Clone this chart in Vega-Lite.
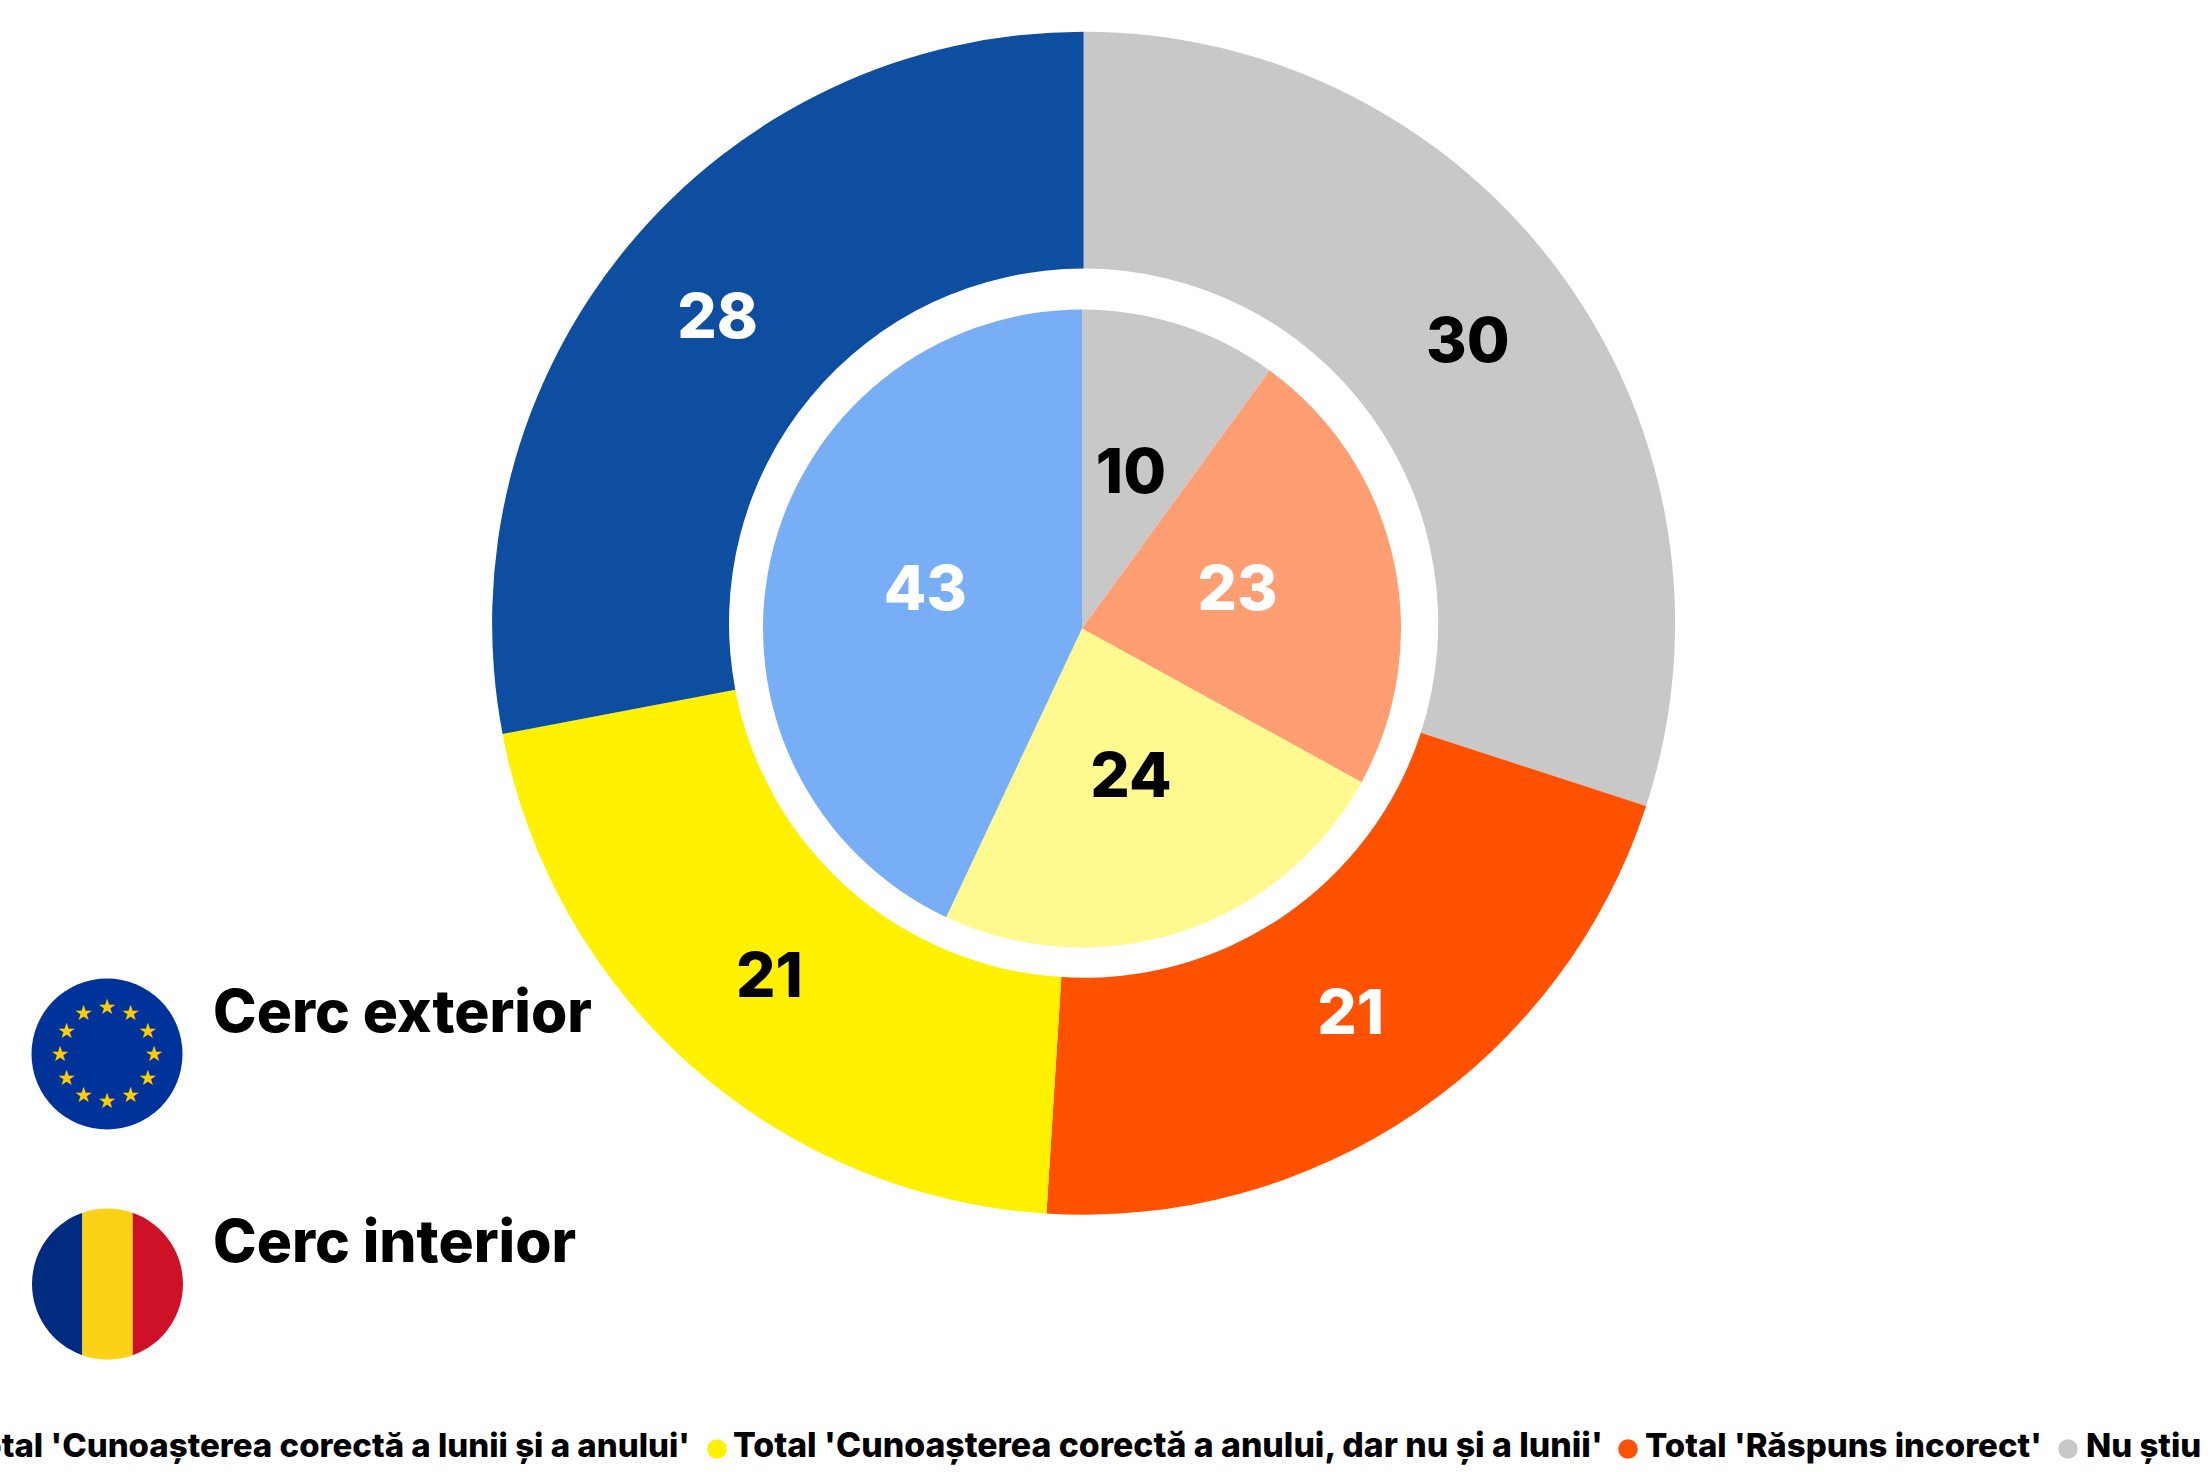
{
"$schema":"https://vega.github.io/schema/vega-lite/v6.json",
"width":2211,"height":1472,"padding":0,"autosize":"none","background":"#ffffff",
"config":{"view":{"stroke":null},"text":{"font":"Inter","fontWeight":800}},
"datasets":{
"rows":[
{"ring":"Cerc exterior","answer":"Nu știu","value":30,"order":1},
{"ring":"Cerc exterior","answer":"Total 'Răspuns incorect'","value":21,"order":2},
{"ring":"Cerc exterior","answer":"Total 'Cunoașterea corectă a anului, dar nu și a lunii'","value":21,"order":3},
{"ring":"Cerc exterior","answer":"Total 'Cunoașterea corectă a lunii și a anului'","value":28,"order":4},
{"ring":"Cerc interior","answer":"Nu știu","value":10,"order":1},
{"ring":"Cerc interior","answer":"Total 'Răspuns incorect'","value":23,"order":2},
{"ring":"Cerc interior","answer":"Total 'Cunoașterea corectă a anului, dar nu și a lunii'","value":24,"order":3},
{"ring":"Cerc interior","answer":"Total 'Cunoașterea corectă a lunii și a anului'","value":43,"order":4}
],
"stars":[{"angle":0},{"angle":30},{"angle":60},{"angle":90},{"angle":120},{"angle":150},{"angle":180},{"angle":210},{"angle":240},{"angle":270},{"angle":300},{"angle":330}],
"stripes":[{"stripe":"albastru"},{"stripe":"galben"},{"stripe":"roșu"}]
},
"resolve":{"scale":{"color":"independent","theta":"independent","shape":"independent"}},
"layer":[
{"data":{"name":"rows"},"transform":[{"filter":"datum.ring=='Cerc exterior'"}],
"mark":{"type":"arc","radius":591.5,"radius2":354.6},
"encoding":{
"x":{"datum":1083.6,"type":"quantitative","scale":{"domain":[0,2211],"range":[0,2211]},"axis":null},
"y":{"datum":623.2,"type":"quantitative","scale":{"domain":[0,1472],"range":[0,1472]},"axis":null},
"theta":{"field":"value","type":"quantitative","stack":true,"scale":{"domain":[0,100]}},
"order":{"field":"order"},
"color":{"field":"answer","legend":null,"scale":{"domain":["Nu știu","Total 'Răspuns incorect'","Total 'Cunoașterea corectă a anului, dar nu și a lunii'","Total 'Cunoașterea corectă a lunii și a anului'"],"range":["#C8C8C8","#FF5100","#FFF100","#0D4EA0"]}}
}},
{"data":{"name":"rows"},"transform":[{"filter":"datum.ring=='Cerc interior'"}],
"mark":{"type":"arc","radius":319,"radius2":0},
"encoding":{
"x":{"datum":1082,"type":"quantitative","scale":{"domain":[0,2211],"range":[0,2211]},"axis":null},
"y":{"datum":628.5,"type":"quantitative","scale":{"domain":[0,1472],"range":[0,1472]},"axis":null},
"theta":{"field":"value","type":"quantitative","stack":true,"scale":{"domain":[0,100]}},
"order":{"field":"order"},
"color":{"field":"answer","legend":null,"scale":{"domain":["Nu știu","Total 'Răspuns incorect'","Total 'Cunoașterea corectă a anului, dar nu și a lunii'","Total 'Cunoașterea corectă a lunii și a anului'"],"range":["#C8C8C8","#FF9E72","#FFF98F","#78AEF5"]}}
}},
{"data":{"name":"rows"},"transform":[{"filter":"datum.ring=='Cerc exterior'"}],
"mark":{"type":"text","radius":475,"fontSize":62,"baseline":"middle","align":"center"},
"encoding":{
"x":{"datum":1083.6,"type":"quantitative","scale":{"domain":[0,2211],"range":[0,2211]},"axis":null},
"y":{"datum":622,"type":"quantitative","scale":{"domain":[0,1472],"range":[0,1472]},"axis":null},
"theta":{"field":"value","type":"quantitative","stack":true,"scale":{"domain":[0,100]}},
"order":{"field":"order"},
"detail":{"field":"answer"},
"text":{"field":"value"},
"color":{"condition":{"test":"datum.answer=='Total \\'Răspuns incorect\\'' || datum.answer=='Total \\'Cunoașterea corectă a lunii și a anului\\''","value":"#ffffff"},"value":"#000000"}
}},
{"data":{"name":"rows"},"transform":[{"filter":"datum.ring=='Cerc interior'"}],
"mark":{"type":"text","radius":160,"fontSize":62,"baseline":"middle","align":"center"},
"encoding":{
"x":{"datum":1081.5,"type":"quantitative","scale":{"domain":[0,2211],"range":[0,2211]},"axis":null},
"y":{"datum":626,"type":"quantitative","scale":{"domain":[0,1472],"range":[0,1472]},"axis":null},
"theta":{"field":"value","type":"quantitative","stack":true,"scale":{"domain":[0,100]}},
"order":{"field":"order"},
"detail":{"field":"answer"},
"text":{"field":"value"},
"color":{"condition":{"test":"datum.answer=='Total \\'Răspuns incorect\\'' || datum.answer=='Total \\'Cunoașterea corectă a lunii și a anului\\''","value":"#ffffff"},"value":"#000000"}
}},
{"data":{"values":[{"flag":"UE"}]},
"mark":{"type":"point","shape":"circle","filled":true,"fill":"#003399","stroke":null,"opacity":1,"size":22801},
"encoding":{
"x":{"datum":107,"type":"quantitative","scale":{"domain":[0,2211],"range":[0,2211]},"axis":null},
"y":{"datum":1054,"type":"quantitative","scale":{"domain":[0,1472],"range":[0,1472]},"axis":null}
}},
{"data":{"name":"stars"},
"mark":{"type":"text","text":"★","font":"DejaVu Sans","fontWeight":"normal","fontSize":21,"radius":47,"baseline":"middle","align":"center","color":"#FFCC00"},
"encoding":{
"x":{"datum":107,"type":"quantitative","scale":{"domain":[0,2211],"range":[0,2211]},"axis":null},
"y":{"datum":1055,"type":"quantitative","scale":{"domain":[0,1472],"range":[0,1472]},"axis":null},
"theta":{"field":"angle","type":"quantitative","scale":{"domain":[0,360],"range":[0,6.283185]}}
}},
{"data":{"name":"stripes"},
"mark":{"type":"point","filled":true,"stroke":null,"opacity":1,"size":22801},
"encoding":{
"x":{"datum":107.5,"type":"quantitative","scale":{"domain":[0,2211],"range":[0,2211]},"axis":null},
"y":{"datum":1284,"type":"quantitative","scale":{"domain":[0,1472],"range":[0,1472]},"axis":null},
"shape":{"field":"stripe","legend":null,"scale":{"domain":["albastru","galben","roșu"],"range":["M -0.3333 -0.9428 A 1 1 0 0 0 -0.3333 0.9428 Z","M -0.3333 -0.9428 A 1 1 0 0 1 0.3333 -0.9428 L 0.3333 0.9428 A 1 1 0 0 1 -0.3333 0.9428 Z","M 0.3333 -0.9428 A 1 1 0 0 1 0.3333 0.9428 Z"]}},
"color":{"field":"stripe","legend":null,"scale":{"domain":["albastru","galben","roșu"],"range":["#002B7F","#FCD116","#CE1126"]}}
}},
{"data":{"values":[{"label":"Cerc exterior"}]},
"mark":{"type":"text","fontSize":58.7,"align":"left","baseline":"alphabetic","color":"#000000"},
"encoding":{
"x":{"datum":213,"type":"quantitative","scale":{"domain":[0,2211],"range":[0,2211]},"axis":null},
"y":{"datum":1032,"type":"quantitative","scale":{"domain":[0,1472],"range":[0,1472]},"axis":null},
"text":{"field":"label"}
}},
{"data":{"values":[{"label":"Cerc interior"}]},
"mark":{"type":"text","fontSize":58.7,"align":"left","baseline":"alphabetic","color":"#000000"},
"encoding":{
"x":{"datum":213,"type":"quantitative","scale":{"domain":[0,2211],"range":[0,2211]},"axis":null},
"y":{"datum":1262,"type":"quantitative","scale":{"domain":[0,1472],"range":[0,1472]},"axis":null},
"text":{"field":"label"}
}},
{"data":{"name":"rows"},"transform":[{"filter":"datum.ring=='Cerc exterior' && datum.order==4"}],
"mark":{"type":"text","fontSize":33,"align":"right","baseline":"alphabetic","color":"#000000"},
"encoding":{
"x":{"datum":690,"type":"quantitative","scale":{"domain":[0,2211],"range":[0,2211]},"axis":null},
"y":{"datum":1457,"type":"quantitative","scale":{"domain":[0,1472],"range":[0,1472]},"axis":null},
"text":{"field":"answer"}
}},
{"data":{"name":"rows"},"transform":[{"filter":"datum.ring=='Cerc exterior' && datum.order==3"}],
"mark":{"type":"text","fontSize":33.8,"align":"left","baseline":"alphabetic","color":"#000000"},
"encoding":{
"x":{"datum":733,"type":"quantitative","scale":{"domain":[0,2211],"range":[0,2211]},"axis":null},
"y":{"datum":1457,"type":"quantitative","scale":{"domain":[0,1472],"range":[0,1472]},"axis":null},
"text":{"field":"answer"}
}},
{"data":{"name":"rows"},"transform":[{"filter":"datum.ring=='Cerc exterior' && datum.order==2"}],
"mark":{"type":"text","fontSize":33,"align":"left","baseline":"alphabetic","color":"#000000"},
"encoding":{
"x":{"datum":1645,"type":"quantitative","scale":{"domain":[0,2211],"range":[0,2211]},"axis":null},
"y":{"datum":1457,"type":"quantitative","scale":{"domain":[0,1472],"range":[0,1472]},"axis":null},
"text":{"field":"answer"}
}},
{"data":{"name":"rows"},"transform":[{"filter":"datum.ring=='Cerc exterior' && datum.order==1"}],
"mark":{"type":"text","fontSize":33,"align":"left","baseline":"alphabetic","color":"#000000"},
"encoding":{
"x":{"datum":2086,"type":"quantitative","scale":{"domain":[0,2211],"range":[0,2211]},"axis":null},
"y":{"datum":1457,"type":"quantitative","scale":{"domain":[0,1472],"range":[0,1472]},"axis":null},
"text":{"field":"answer"}
}},
{"data":{"name":"rows"},"transform":[{"filter":"datum.ring=='Cerc exterior' && datum.order==3"}],
"mark":{"type":"point","shape":"circle","filled":true,"stroke":null,"opacity":1,"size":380,"color":"#FFF100"},
"encoding":{
"x":{"datum":717,"type":"quantitative","scale":{"domain":[0,2211],"range":[0,2211]},"axis":null},
"y":{"datum":1449,"type":"quantitative","scale":{"domain":[0,1472],"range":[0,1472]},"axis":null}
}},
{"data":{"name":"rows"},"transform":[{"filter":"datum.ring=='Cerc exterior' && datum.order==2"}],
"mark":{"type":"point","shape":"circle","filled":true,"stroke":null,"opacity":1,"size":380,"color":"#FF5100"},
"encoding":{
"x":{"datum":1628,"type":"quantitative","scale":{"domain":[0,2211],"range":[0,2211]},"axis":null},
"y":{"datum":1449,"type":"quantitative","scale":{"domain":[0,1472],"range":[0,1472]},"axis":null}
}},
{"data":{"name":"rows"},"transform":[{"filter":"datum.ring=='Cerc exterior' && datum.order==1"}],
"mark":{"type":"point","shape":"circle","filled":true,"stroke":null,"opacity":1,"size":380,"color":"#C8C8C8"},
"encoding":{
"x":{"datum":2068,"type":"quantitative","scale":{"domain":[0,2211],"range":[0,2211]},"axis":null},
"y":{"datum":1449,"type":"quantitative","scale":{"domain":[0,1472],"range":[0,1472]},"axis":null}
}}
]
}
